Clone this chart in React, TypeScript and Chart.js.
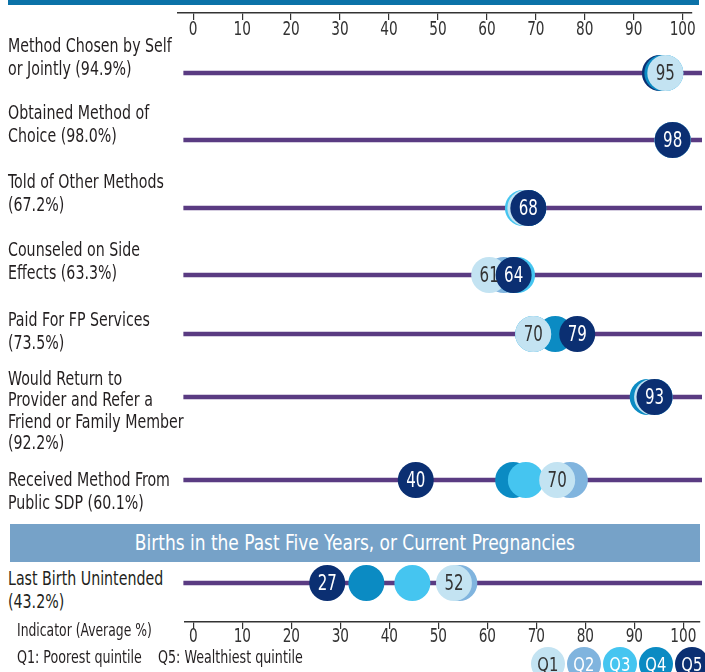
import React, { useEffect, useRef } from "react";
import { Chart, registerables } from "chart.js";

Chart.register(...registerables);

// ---------------- DATA ----------------
const INDICATORS: string[][] = [
  ["Method Chosen by Self", "or Jointly (94.9%)"],
  ["Obtained Method of", "Choice (98.0%)"],
  ["Told of Other Methods", "(67.2%)"],
  ["Counseled on Side", "Effects (63.3%)"],
  ["Paid For FP Services", "(73.5%)"],
  ["Would Return to", "Provider and Refer a", "Friend or Family Member", "(92.2%)"],
  ["Received Method From", "Public SDP (60.1%)"],
  ["Last Birth Unintended", "(43.2%)"],
];
const SECTION_TITLE = "Births in the Past Five Years, or Current Pregnancies";
const QUINTILES = ["Q1", "Q2", "Q3", "Q4", "Q5"];
const Q1_VALUES = [96.5, 98, 67.9, 60.5, 69.5, 93.8, 74.4, 53.3];
const Q2_VALUES = [96.5, 98, 68.5, 63.5, 69.5, 94.3, 77.0, 54.4];
const Q3_VALUES = [96.5, 98, 67.4, 66.2, 69.5, 94.3, 68.0, 44.8];
const Q4_VALUES = [95.9, 98, 68.5, 65.5, 74.0, 92.9, 65.4, 35.4];
const Q5_VALUES = [95.4, 98, 68.5, 65.5, 78.5, 94.3, 45.5, 27.4];
const Q1_LABELS: (string | null)[] = ["95", null, null, "61", "70", null, "70", "52"];
const Q5_LABELS: (string | null)[] = [null, "98", "68", "64", "79", "93", "40", "27"];
const AXIS_TICKS = [0, 10, 20, 30, 40, 50, 60, 70, 80, 90, 100];
const AXIS_TITLE = "Indicator (Average %)";
const QUINTILE_NOTE = "Q1: Poorest quintile\u00a0\u00a0\u00a0\u00a0Q5: Wealthiest quintile";

// ---------------- STYLE ----------------
const FONT = '"Liberation Sans Narrow", "DejaVu Sans Condensed", "Roboto Condensed", "Arial Narrow", sans-serif';
const COLORS = ["#c3e3f2", "#80b4de", "#45c5f0", "#0b8bc3", "#0b2f72"];
const LABEL_COLORS = ["#333333", "#ffffff", "#ffffff", "#ffffff", "#ffffff"];
const PURPLE = "#5a3b82";
const TEXT = "#231f20";
const ROW_CENTERS = [73, 140, 208, 275, 334, 397, 480, 583];
const TEXT_FIRST_LINE = [45, 112, 181, 249, 319, 379, 479, 578];
const ROW_H = 46;

function drawNarrowText(ctx: any, text: string, x: number, y: number, size: number, color: string, sx: number) {
  ctx.save();
  ctx.translate(x, y);
  ctx.scale(sx, 1);
  ctx.font = `${size}px ${FONT}`;
  ctx.fillStyle = color;
  ctx.textAlign = "center";
  ctx.textBaseline = "middle";
  ctx.fillText(text, 0, 0);
  ctx.restore();
}

const pointLabelPlugin = {
  id: "pointLabels",
  afterDatasetsDraw(chart: any) {
    chart.data.datasets.forEach((ds: any, i: number) => {
      if (!ds.labelText) return;
      const el = chart.getDatasetMeta(i).data[0];
      if (!el) return;
      drawNarrowText(chart.ctx, ds.labelText, el.x, el.y + 1, 22, ds.labelColor, 0.76);
    });
  },
};

const tickLabelPlugin = {
  id: "tickLabels",
  afterDraw(chart: any, _args: any, opts: any) {
    const s = chart.scales.x;
    s.ticks.forEach((t: any) => {
      drawNarrowText(chart.ctx, String(t.value), s.getPixelForValue(t.value), s.top + opts.offset, 20, "#333", 0.76);
    });
  },
};

function RowChart({ row }: { row: number }) {
  const ref = useRef<HTMLCanvasElement>(null);
  useEffect(() => {
    const series = [Q1_VALUES, Q2_VALUES, Q3_VALUES, Q4_VALUES, Q5_VALUES];
    // smaller order = drawn on top
    const layer = row === 0 ? [1, 5, 4, 2, 3] : [2, 5, 3, 4, 1];
    const datasets: any[] = [
      {
        type: "line",
        data: [
          { x: -2, y: 0 },
          { x: 104, y: 0 },
        ],
        borderColor: PURPLE,
        borderWidth: 4.5,
        pointRadius: 0,
        order: 10,
        clip: false,
      },
      ...QUINTILES.map((q, i) => ({
        type: "scatter",
        label: q,
        data: [{ x: series[i][row], y: 0 }],
        backgroundColor: COLORS[i],
        borderWidth: 0,
        pointRadius: 18,
        pointHoverRadius: 18,
        order: layer[i],
        clip: false,
        labelText: i === 0 ? Q1_LABELS[row] : i === 4 ? Q5_LABELS[row] : null,
        labelColor: LABEL_COLORS[i],
      })),
    ];
    const chart = new Chart(ref.current as HTMLCanvasElement, {
      type: "scatter",
      data: { datasets },
      options: {
        responsive: false,
        animation: false,
        events: [],
        layout: { autoPadding: false, padding: { left: 178, right: 3, top: 0, bottom: 0 } },
        scales: {
          x: { type: "linear", min: -3.1, max: 104, display: false },
          y: { type: "linear", min: -1, max: 1, display: false },
        },
        plugins: { legend: { display: false }, tooltip: { enabled: false } },
      },
      plugins: [pointLabelPlugin],
    } as any);
    return () => chart.destroy();
  }, [row]);
  return (
    <canvas
      ref={ref}
      width={705}
      height={ROW_H}
      style={{ position: "absolute", left: 0, top: ROW_CENTERS[row] - ROW_H / 2, width: 705, height: ROW_H }}
    />
  );
}

// axis line sits 2px below the canvas top
function AxisChart({ lineY, labelOffset, min, max, padLeft, padRight }: any) {
  const ref = useRef<HTMLCanvasElement>(null);
  const H = 44;
  useEffect(() => {
    const chart = new Chart(ref.current as HTMLCanvasElement, {
      type: "scatter",
      data: { datasets: [{ data: [], pointRadius: 0 }] },
      options: {
        responsive: false,
        animation: false,
        events: [],
        layout: { autoPadding: false, padding: { left: padLeft, right: padRight, top: 0, bottom: H - 2 - 7 } },
        scales: {
          x: {
            type: "linear",
            position: "bottom",
            min,
            max,
            afterBuildTicks: (s: any) => {
              s.ticks = AXIS_TICKS.map((v) => ({ value: v }));
            },
            grid: { drawOnChartArea: false, drawTicks: true, tickLength: 7, color: "#333", lineWidth: 1.2 },
            border: { display: true, color: "#333", width: 1.5 },
            ticks: { display: false },
          },
          y: { display: false, min: 0, max: 1 },
        },
        plugins: { legend: { display: false }, tooltip: { enabled: false }, tickLabels: { offset: labelOffset } },
      },
      plugins: [tickLabelPlugin],
    } as any);
    return () => chart.destroy();
  }, []);
  return (
    <canvas
      ref={ref}
      width={705}
      height={H}
      style={{ position: "absolute", left: 0, top: lineY - 2, width: 705, height: H }}
    />
  );
}

const narrowText = (left: number, top: number, size: number, lh: string, sx: number, text: any, key?: any) => (
  <div
    key={key}
    style={{
      position: "absolute",
      left,
      top,
      fontSize: size,
      lineHeight: lh,
      whiteSpace: "nowrap",
      transform: `scaleX(${sx})`,
      transformOrigin: "0 0",
    }}
  >
    {text}
  </div>
);

export default function App() {
  return (
    <div
      style={{
        position: "absolute",
        left: 0,
        top: 0,
        width: 705,
        height: 672,
        overflow: "hidden",
        background: "#fff",
        fontFamily: FONT,
        color: TEXT,
      }}
    >
      <div style={{ position: "absolute", left: 8, top: 0, width: 691, height: 5, background: "#0b72a8" }} />
      <AxisChart lineY={13} labelOffset={17} min={-3.1} max={101.9} padLeft={178} padRight={13} />
      {INDICATORS.map((lines, r) =>
        narrowText(
          8,
          TEXT_FIRST_LINE[r] - 11.5,
          19.5,
          r === 5 ? "21.5px" : "23px",
          0.81,
          lines.map((l, k) => <div key={k}>{l}</div>),
          "t" + r
        )
      )}
      {INDICATORS.map((_, r) => (
        <RowChart key={"r" + r} row={r} />
      ))}
      <div
        style={{
          position: "absolute",
          left: 10,
          top: 524,
          width: 690,
          height: 38,
          background: "#76a2c8",
          color: "#fff",
          fontSize: 22,
          lineHeight: "38px",
          textAlign: "center",
        }}
      >
        <span style={{ display: "inline-block", transform: "scaleX(0.86)", transformOrigin: "50% 50%", whiteSpace: "nowrap" }}>
          {SECTION_TITLE}
        </span>
      </div>
      <AxisChart lineY={622} labelOffset={15} min={-1.7} max={103.4} padLeft={185} padRight={5} />
      {narrowText(17, 620, 17, "20px", 0.81, AXIS_TITLE)}
      {narrowText(17, 647, 17, "20px", 0.83, QUINTILE_NOTE)}
      {QUINTILES.map((q, i) => (
        <div
          key={q}
          style={{
            position: "absolute",
            left: 531 + i * 36,
            top: 647,
            width: 34,
            height: 34,
            borderRadius: "50%",
            background: COLORS[i],
            color: LABEL_COLORS[i],
            fontSize: 20,
            lineHeight: "34px",
            textAlign: "center",
          }}
        >
          <span style={{ display: "inline-block", transform: "scaleX(0.82)" }}>{q}</span>
        </div>
      ))}
    </div>
  );
}
